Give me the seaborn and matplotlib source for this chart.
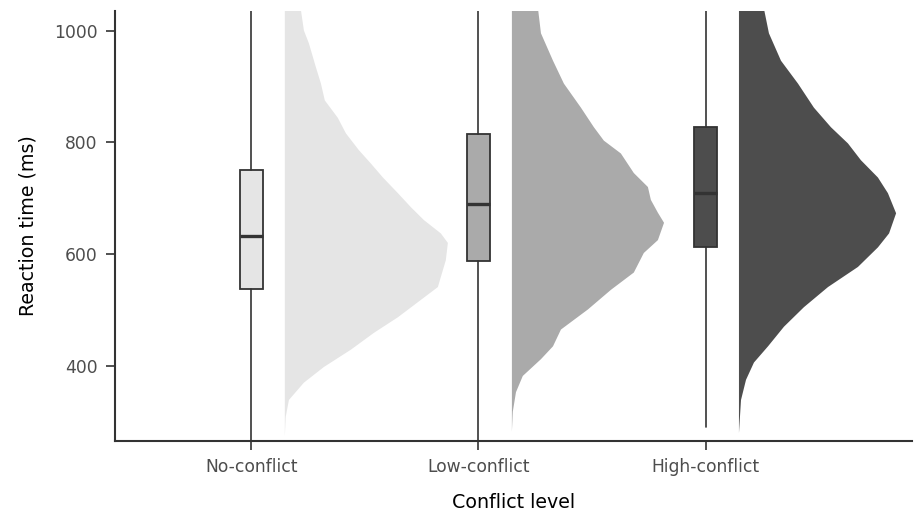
import matplotlib.pyplot as plt
import numpy as np
import seaborn as sns

# conflict levels and colours
levels = ["No-conflict", "Low-conflict", "High-conflict"]
fills = ["#e5e5e5", "#aaaaaa", "#4d4d4d"]

# box statistics (ms)
q1 = [538, 587, 612]
med = [633, 690, 710]
q3 = [751, 815, 828]
whis_lo = [240, 240, 290]
whis_hi = [1100, 1100, 1100]

# half-violin profiles: reaction time (ms) and width (in x units)
rt_no = [1040, 1001, 978, 935, 906, 876, 845, 817, 787, 763, 738, 710, 685, 662, 638, 621,
         590, 560, 542, 519, 488, 460, 430, 399, 371, 340, 310, 275]
w_no = [0.070, 0.084, 0.106, 0.137, 0.159, 0.176, 0.233, 0.269, 0.326, 0.379, 0.432, 0.498,
        0.555, 0.612, 0.687, 0.718, 0.709, 0.687, 0.674, 0.599, 0.498, 0.392, 0.291, 0.172,
        0.084, 0.018, 0.004, 0.0]

rt_low = [1040, 996, 947, 906, 863, 828, 804, 781, 746, 721, 698, 675, 657, 626, 603, 568,
          537, 502, 466, 436, 413, 383, 354, 319, 283]
w_low = [0.115, 0.128, 0.181, 0.229, 0.304, 0.361, 0.405, 0.480, 0.537, 0.599, 0.612, 0.643,
         0.670, 0.643, 0.581, 0.537, 0.436, 0.335, 0.216, 0.181, 0.128, 0.048, 0.018, 0.004, 0.0]

rt_high = [1040, 996, 947, 906, 863, 828, 799, 769, 738, 710, 674, 638, 613, 578, 542, 506,
           471, 436, 407, 376, 340, 281]
w_high = [0.110, 0.132, 0.185, 0.260, 0.330, 0.405, 0.480, 0.537, 0.612, 0.656, 0.692, 0.661,
          0.612, 0.524, 0.392, 0.286, 0.198, 0.128, 0.066, 0.031, 0.009, 0.0]

profiles = [(rt_no, w_no), (rt_low, w_low), (rt_high, w_high)]

sns.set_theme(style="white")
plt.rcParams['font.family'] = ['DejaVu Sans']

fig = plt.figure(figsize=(9.14, 5.12), dpi=100)
ax = fig.add_axes([0.126, 0.139, 0.872, 0.8395])

dark = "#333333"
offset = 0.145

for i, (rt, w) in enumerate(profiles):
    rt = np.array(rt)
    w = np.array(w)
    base = i + offset
    ax.fill_betweenx(rt, base, base + w, color=fills[i], linewidth=0, zorder=1)

stats = []
for i in range(3):
    stats.append({"med": med[i], "q1": q1[i], "q3": q3[i],
                  "whislo": whis_lo[i], "whishi": whis_hi[i], "fliers": []})

bp = ax.bxp(stats, positions=range(3), widths=0.1, patch_artist=True, showcaps=False,
            boxprops=dict(edgecolor=dark, linewidth=1.3),
            whiskerprops=dict(color=dark, linewidth=1.2),
            medianprops=dict(color=dark, linewidth=2.4),
            manage_ticks=False)
for patch, c in zip(bp["boxes"], fills):
    patch.set_facecolor(c)

ax.set_xlim(-0.6, 2.91)
ax.set_ylim(266, 1035)
ax.set_xticks(range(3))
ax.set_xticklabels(levels)
ax.set_yticks([400, 600, 800, 1000])

sns.despine(ax=ax)
for s in ["left", "bottom"]:
    ax.spines[s].set_color(dark)
    ax.spines[s].set_linewidth(1.5)
ax.tick_params(axis="both", which="major", length=6.5, width=1.2, color=dark,
               labelsize=12.3, labelcolor="#4d4d4d", bottom=True, left=True, pad=6)

ax.set_xlabel("Conflict level", fontsize=13.7, color="black", labelpad=12)
ax.set_ylabel("Reaction time (ms)", fontsize=13.7, color="black", labelpad=12)

fig.savefig("out.png", dpi=100)
